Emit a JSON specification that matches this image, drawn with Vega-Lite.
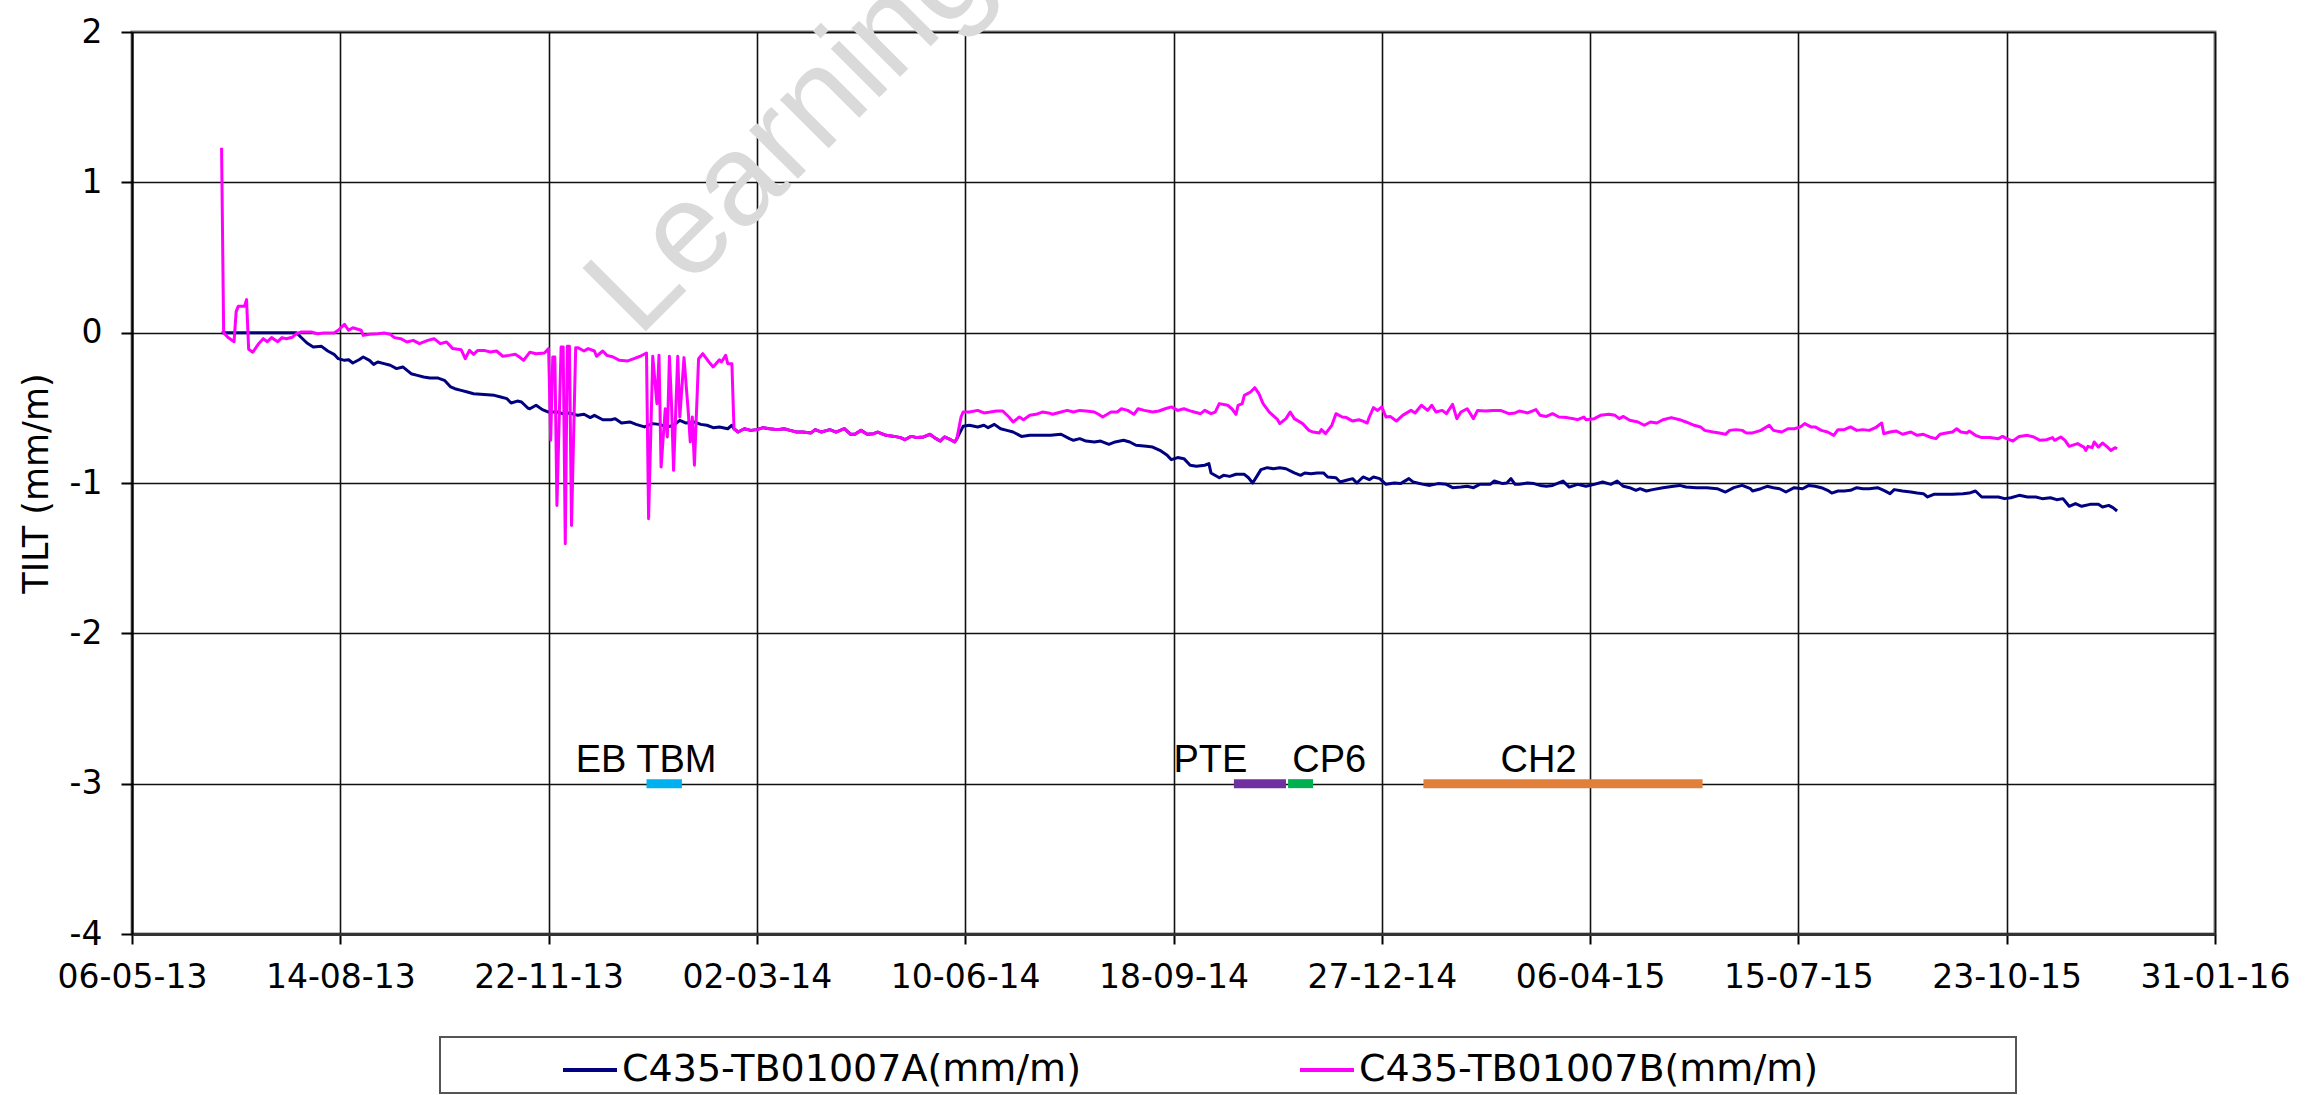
{
  "$schema": "https://vega.github.io/schema/vega-lite/v6.json",
  "width": 2083,
  "height": 902,
  "autosize": {"type": "none"},
  "padding": {"left": 132, "top": 32, "right": 103, "bottom": 161},
  "background": "white",
  "config": {
    "view": {"stroke": "#808080", "strokeWidth": 3},
    "axis": {
      "labelFont": "DejaVu Sans", "labelFontSize": 33, "labelColor": "#000",
      "tickColor": "#000", "tickWidth": 2, "domainColor": "#000", "domainWidth": 2,
      "gridColor": "#111", "gridWidth": 1.6, "gridOpacity": 1,
      "titleFont": "DejaVu Sans", "titleFontSize": 35, "titleFontWeight": "normal", "titleColor": "#000",
      "labelFlush": false, "labelOverlap": false, "labelBound": false
    },
    "legend": {"strokeWidth": 2}
  },
  "datasets": {
    "A": [
      {"d":"2013-06-18","v":0},{"d":"2013-07-24","v":0},{"d":"2013-07-26","v":-0.029},{"d":"2013-07-29","v":-0.069},
      {"d":"2013-08-01","v":-0.095},{"d":"2013-08-05","v":-0.091},{"d":"2013-08-08","v":-0.122},{"d":"2013-08-11","v":-0.144},
      {"d":"2013-08-13","v":-0.173},{"d":"2013-08-16","v":-0.184},{"d":"2013-08-18","v":-0.18},{"d":"2013-08-20","v":-0.202},
      {"d":"2013-08-23","v":-0.18},{"d":"2013-08-25","v":-0.162},{"d":"2013-08-28","v":-0.184},{"d":"2013-08-30","v":-0.211},
      {"d":"2013-09-01","v":-0.195},{"d":"2013-09-04","v":-0.206},{"d":"2013-09-07","v":-0.217},{"d":"2013-09-10","v":-0.239},
      {"d":"2013-09-13","v":-0.228},{"d":"2013-09-17","v":-0.273},{"d":"2013-09-20","v":-0.284},{"d":"2013-09-23","v":-0.295},
      {"d":"2013-09-26","v":-0.302},{"d":"2013-09-30","v":-0.302},{"d":"2013-10-03","v":-0.317},{"d":"2013-10-06","v":-0.361},
      {"d":"2013-10-08","v":-0.373},{"d":"2013-10-11","v":-0.384},{"d":"2013-10-14","v":-0.395},{"d":"2013-10-17","v":-0.406},
      {"d":"2013-10-22","v":-0.412},{"d":"2013-10-27","v":-0.417},{"d":"2013-10-30","v":-0.428},{"d":"2013-11-02","v":-0.439},
      {"d":"2013-11-04","v":-0.468},{"d":"2013-11-07","v":-0.455},{"d":"2013-11-09","v":-0.461},{"d":"2013-11-12","v":-0.501},
      {"d":"2013-11-13","v":-0.506},{"d":"2013-11-16","v":-0.483},{"d":"2013-11-19","v":-0.512},{"d":"2013-11-22","v":-0.528},
      {"d":"2013-11-26","v":-0.528},{"d":"2013-11-29","v":-0.539},{"d":"2013-12-02","v":-0.534},{"d":"2013-12-06","v":-0.55},
      {"d":"2013-12-09","v":-0.543},{"d":"2013-12-12","v":-0.565},{"d":"2013-12-14","v":-0.55},{"d":"2013-12-18","v":-0.579},
      {"d":"2013-12-22","v":-0.579},{"d":"2013-12-24","v":-0.572},{"d":"2013-12-27","v":-0.601},{"d":"2013-12-31","v":-0.594},
      {"d":"2014-01-03","v":-0.61},{"d":"2014-01-07","v":-0.627},{"d":"2014-01-11","v":-0.605},{"d":"2014-01-14","v":-0.61},
      {"d":"2014-01-18","v":-0.627},{"d":"2014-01-21","v":-0.616},{"d":"2014-01-24","v":-0.583},{"d":"2014-01-27","v":-0.601},
      {"d":"2014-01-31","v":-0.594},{"d":"2014-02-03","v":-0.61},{"d":"2014-02-06","v":-0.616},{"d":"2014-02-09","v":-0.632},
      {"d":"2014-02-12","v":-0.627},{"d":"2014-02-16","v":-0.639},{"d":"2014-02-18","v":-0.616},{"d":"2014-02-19","v":-0.639},
      {"d":"2014-02-21","v":-0.661},{"d":"2014-02-24","v":-0.639},{"d":"2014-02-27","v":-0.65},{"d":"2014-03-02","v":-0.645},
      {"d":"2014-03-05","v":-0.632},{"d":"2014-03-08","v":-0.639},{"d":"2014-03-12","v":-0.645},{"d":"2014-03-15","v":-0.639},
      {"d":"2014-03-18","v":-0.65},{"d":"2014-03-21","v":-0.661},{"d":"2014-03-24","v":-0.661},{"d":"2014-03-28","v":-0.667},
      {"d":"2014-03-30","v":-0.645},{"d":"2014-04-02","v":-0.661},{"d":"2014-04-06","v":-0.645},{"d":"2014-04-09","v":-0.661},
      {"d":"2014-04-13","v":-0.639},{"d":"2014-04-16","v":-0.676},{"d":"2014-04-18","v":-0.676},{"d":"2014-04-21","v":-0.65},
      {"d":"2014-04-24","v":-0.676},{"d":"2014-04-27","v":-0.672},{"d":"2014-04-29","v":-0.661},{"d":"2014-05-03","v":-0.683},
      {"d":"2014-05-07","v":-0.69},{"d":"2014-05-10","v":-0.698},{"d":"2014-05-12","v":-0.712},{"d":"2014-05-15","v":-0.69},
      {"d":"2014-05-18","v":-0.698},{"d":"2014-05-21","v":-0.694},{"d":"2014-05-24","v":-0.676},{"d":"2014-05-27","v":-0.705},
      {"d":"2014-05-29","v":-0.721},{"d":"2014-05-31","v":-0.694},{"d":"2014-06-03","v":-0.712},{"d":"2014-06-05","v":-0.727},
      {"d":"2014-06-06","v":-0.705},{"d":"2014-06-08","v":-0.65},{"d":"2014-06-09","v":-0.623},{"d":"2014-06-12","v":-0.616},
      {"d":"2014-06-16","v":-0.627},{"d":"2014-06-19","v":-0.616},{"d":"2014-06-21","v":-0.632},{"d":"2014-06-24","v":-0.61},
      {"d":"2014-06-27","v":-0.639},{"d":"2014-06-30","v":-0.65},{"d":"2014-07-03","v":-0.661},{"d":"2014-07-07","v":-0.69},
      {"d":"2014-07-11","v":-0.683},{"d":"2014-07-16","v":-0.683},{"d":"2014-07-21","v":-0.683},{"d":"2014-07-26","v":-0.676},
      {"d":"2014-07-30","v":-0.705},{"d":"2014-08-01","v":-0.716},{"d":"2014-08-04","v":-0.705},{"d":"2014-08-07","v":-0.721},
      {"d":"2014-08-11","v":-0.727},{"d":"2014-08-14","v":-0.721},{"d":"2014-08-18","v":-0.743},{"d":"2014-08-21","v":-0.727},
      {"d":"2014-08-25","v":-0.716},{"d":"2014-08-28","v":-0.727},{"d":"2014-08-31","v":-0.749},{"d":"2014-09-05","v":-0.756},
      {"d":"2014-09-08","v":-0.761},{"d":"2014-09-12","v":-0.787},{"d":"2014-09-15","v":-0.816},{"d":"2014-09-17","v":-0.845},
      {"d":"2014-09-20","v":-0.831},{"d":"2014-09-23","v":-0.838},{"d":"2014-09-26","v":-0.882},{"d":"2014-09-29","v":-0.889},
      {"d":"2014-10-03","v":-0.882},{"d":"2014-10-05","v":-0.871},{"d":"2014-10-06","v":-0.933},{"d":"2014-10-10","v":-0.965},
      {"d":"2014-10-12","v":-0.949},{"d":"2014-10-15","v":-0.956},{"d":"2014-10-18","v":-0.942},{"d":"2014-10-22","v":-0.942},
      {"d":"2014-10-24","v":-0.965},{"d":"2014-10-26","v":-1.0},{"d":"2014-10-28","v":-0.956},{"d":"2014-10-30","v":-0.911},
      {"d":"2014-11-02","v":-0.898},{"d":"2014-11-05","v":-0.905},{"d":"2014-11-08","v":-0.898},{"d":"2014-11-11","v":-0.905},
      {"d":"2014-11-15","v":-0.933},{"d":"2014-11-18","v":-0.949},{"d":"2014-11-20","v":-0.933},{"d":"2014-11-23","v":-0.938},
      {"d":"2014-11-26","v":-0.933},{"d":"2014-11-29","v":-0.933},{"d":"2014-12-01","v":-0.96},{"d":"2014-12-05","v":-0.965},
      {"d":"2014-12-07","v":-0.993},{"d":"2014-12-10","v":-0.982},{"d":"2014-12-13","v":-0.971},{"d":"2014-12-15","v":-1.0},
      {"d":"2014-12-18","v":-0.96},{"d":"2014-12-21","v":-0.978},{"d":"2014-12-23","v":-0.96},{"d":"2014-12-26","v":-0.971},
      {"d":"2014-12-29","v":-1.009},{"d":"2015-01-02","v":-1.0},{"d":"2015-01-05","v":-1.004},{"d":"2015-01-09","v":-0.971},
      {"d":"2015-01-11","v":-0.993},{"d":"2015-01-16","v":-1.009},{"d":"2015-01-19","v":-1.016},{"d":"2015-01-23","v":-1.004},
      {"d":"2015-01-27","v":-1.009},{"d":"2015-01-30","v":-1.031},{"d":"2015-02-03","v":-1.027},{"d":"2015-02-06","v":-1.022},
      {"d":"2015-02-09","v":-1.031},{"d":"2015-02-12","v":-1.009},{"d":"2015-02-17","v":-1.009},{"d":"2015-02-19","v":-0.987},
      {"d":"2015-02-23","v":-1.004},{"d":"2015-02-25","v":-1.0},{"d":"2015-02-27","v":-0.971},{"d":"2015-03-01","v":-1.009},
      {"d":"2015-03-03","v":-1.009},{"d":"2015-03-07","v":-1.0},{"d":"2015-03-10","v":-1.004},{"d":"2015-03-13","v":-1.016},
      {"d":"2015-03-16","v":-1.022},{"d":"2015-03-19","v":-1.016},{"d":"2015-03-24","v":-0.987},{"d":"2015-03-27","v":-1.027},
      {"d":"2015-03-31","v":-1.009},{"d":"2015-04-04","v":-1.022},{"d":"2015-04-08","v":-1.009},{"d":"2015-04-12","v":-0.993},
      {"d":"2015-04-16","v":-1.009},{"d":"2015-04-19","v":-0.987},{"d":"2015-04-22","v":-1.022},{"d":"2015-04-25","v":-1.031},
      {"d":"2015-04-28","v":-1.049},{"d":"2015-04-30","v":-1.038},{"d":"2015-05-03","v":-1.053},{"d":"2015-05-06","v":-1.044},
      {"d":"2015-05-11","v":-1.031},{"d":"2015-05-16","v":-1.022},{"d":"2015-05-19","v":-1.016},{"d":"2015-05-22","v":-1.027},
      {"d":"2015-05-27","v":-1.031},{"d":"2015-06-01","v":-1.031},{"d":"2015-06-06","v":-1.038},{"d":"2015-06-10","v":-1.06},
      {"d":"2015-06-14","v":-1.031},{"d":"2015-06-18","v":-1.016},{"d":"2015-06-22","v":-1.038},{"d":"2015-06-23","v":-1.053},
      {"d":"2015-06-27","v":-1.038},{"d":"2015-06-30","v":-1.022},{"d":"2015-07-03","v":-1.031},{"d":"2015-07-06","v":-1.038},
      {"d":"2015-07-09","v":-1.06},{"d":"2015-07-13","v":-1.031},{"d":"2015-07-17","v":-1.038},{"d":"2015-07-20","v":-1.016},
      {"d":"2015-07-23","v":-1.022},{"d":"2015-07-26","v":-1.031},{"d":"2015-07-29","v":-1.049},{"d":"2015-07-31","v":-1.067},
      {"d":"2015-08-03","v":-1.053},{"d":"2015-08-06","v":-1.053},{"d":"2015-08-09","v":-1.049},{"d":"2015-08-12","v":-1.031},
      {"d":"2015-08-15","v":-1.038},{"d":"2015-08-18","v":-1.038},{"d":"2015-08-22","v":-1.031},{"d":"2015-08-25","v":-1.049},
      {"d":"2015-08-28","v":-1.071},{"d":"2015-08-30","v":-1.044},{"d":"2015-09-03","v":-1.053},{"d":"2015-09-07","v":-1.06},
      {"d":"2015-09-10","v":-1.067},{"d":"2015-09-13","v":-1.071},{"d":"2015-09-15","v":-1.093},{"d":"2015-09-18","v":-1.075},
      {"d":"2015-09-23","v":-1.075},{"d":"2015-09-27","v":-1.075},{"d":"2015-10-02","v":-1.071},{"d":"2015-10-05","v":-1.067},
      {"d":"2015-10-08","v":-1.053},{"d":"2015-10-11","v":-1.093},{"d":"2015-10-15","v":-1.093},{"d":"2015-10-19","v":-1.093},
      {"d":"2015-10-22","v":-1.104},{"d":"2015-10-25","v":-1.098},{"d":"2015-10-29","v":-1.082},{"d":"2015-11-02","v":-1.093},
      {"d":"2015-11-06","v":-1.093},{"d":"2015-11-09","v":-1.104},{"d":"2015-11-13","v":-1.098},{"d":"2015-11-16","v":-1.111},
      {"d":"2015-11-19","v":-1.104},{"d":"2015-11-22","v":-1.155},{"d":"2015-11-25","v":-1.137},{"d":"2015-11-28","v":-1.155},
      {"d":"2015-12-02","v":-1.142},{"d":"2015-12-06","v":-1.142},{"d":"2015-12-08","v":-1.16},{"d":"2015-12-11","v":-1.149},
      {"d":"2015-12-13","v":-1.164},{"d":"2015-12-15","v":-1.186}
    ],
    "B": [
      {"d":"2013-06-18","v":1.23},{"d":"2013-06-19","v":0},{"d":"2013-06-21","v":-0.03},{"d":"2013-06-24","v":-0.06},
      {"d":"2013-06-25","v":0.14},{"d":"2013-06-26","v":0.175},{"d":"2013-06-29","v":0.175},{"d":"2013-06-30","v":0.22},
      {"d":"2013-07-01","v":-0.11},{"d":"2013-07-03","v":-0.13},{"d":"2013-07-06","v":-0.07},{"d":"2013-07-08","v":-0.04},
      {"d":"2013-07-10","v":-0.06},{"d":"2013-07-12","v":-0.033},{"d":"2013-07-15","v":-0.06},{"d":"2013-07-17","v":-0.033},
      {"d":"2013-07-19","v":-0.04},{"d":"2013-07-22","v":-0.03},{"d":"2013-07-24","v":-0.007},{"d":"2013-07-26","v":0.004},
      {"d":"2013-07-31","v":0.004},{"d":"2013-08-03","v":-0.007},{"d":"2013-08-06","v":-0.002},{"d":"2013-08-11","v":-0.002},
      {"d":"2013-08-13","v":0.016},{"d":"2013-08-16","v":0.055},{"d":"2013-08-18","v":0.016},{"d":"2013-08-20","v":0.033},
      {"d":"2013-08-24","v":0.016},{"d":"2013-08-25","v":-0.018},{"d":"2013-08-28","v":-0.011},{"d":"2013-09-01","v":-0.007},
      {"d":"2013-09-04","v":-0.002},{"d":"2013-09-07","v":-0.011},{"d":"2013-09-09","v":-0.033},{"d":"2013-09-12","v":-0.04},
      {"d":"2013-09-15","v":-0.062},{"d":"2013-09-18","v":-0.051},{"d":"2013-09-21","v":-0.073},{"d":"2013-09-25","v":-0.051},
      {"d":"2013-09-28","v":-0.04},{"d":"2013-10-01","v":-0.073},{"d":"2013-10-04","v":-0.062},{"d":"2013-10-07","v":-0.106},
      {"d":"2013-10-11","v":-0.113},{"d":"2013-10-13","v":-0.173},{"d":"2013-10-15","v":-0.118},{"d":"2013-10-17","v":-0.144},
      {"d":"2013-10-19","v":-0.118},{"d":"2013-10-22","v":-0.118},{"d":"2013-10-25","v":-0.129},{"d":"2013-10-28","v":-0.122},
      {"d":"2013-10-31","v":-0.157},{"d":"2013-11-03","v":-0.151},{"d":"2013-11-06","v":-0.144},{"d":"2013-11-08","v":-0.162},
      {"d":"2013-11-10","v":-0.184},{"d":"2013-11-13","v":-0.13},{"d":"2013-11-16","v":-0.14},{"d":"2013-11-20","v":-0.135},
      {"d":"2013-11-22","v":-0.106},{"d":"2013-11-23","v":-0.716},{"d":"2013-11-24","v":-0.162},{"d":"2013-11-25","v":-0.162},
      {"d":"2013-11-26","v":-1.149},{"d":"2013-11-28","v":-0.095},{"d":"2013-11-29","v":-0.095},{"d":"2013-11-30","v":-1.404},
      {"d":"2013-12-01","v":-0.091},{"d":"2013-12-02","v":-0.091},{"d":"2013-12-03","v":-1.282},{"d":"2013-12-05","v":-0.1},
      {"d":"2013-12-06","v":-0.1},{"d":"2013-12-09","v":-0.122},{"d":"2013-12-11","v":-0.106},{"d":"2013-12-14","v":-0.122},
      {"d":"2013-12-15","v":-0.157},{"d":"2013-12-18","v":-0.122},{"d":"2013-12-20","v":-0.151},{"d":"2013-12-23","v":-0.162},
      {"d":"2013-12-26","v":-0.184},{"d":"2013-12-30","v":-0.188},{"d":"2014-01-02","v":-0.173},{"d":"2014-01-05","v":-0.157},
      {"d":"2014-01-08","v":-0.135},{"d":"2014-01-09","v":-1.237},{"d":"2014-01-11","v":-0.157},{"d":"2014-01-13","v":-0.472},
      {"d":"2014-01-14","v":-0.151},{"d":"2014-01-15","v":-0.894},{"d":"2014-01-17","v":-0.506},{"d":"2014-01-18","v":-0.694},
      {"d":"2014-01-19","v":-0.157},{"d":"2014-01-20","v":-0.472},{"d":"2014-01-21","v":-0.916},{"d":"2014-01-23","v":-0.157},
      {"d":"2014-01-24","v":-0.561},{"d":"2014-01-26","v":-0.166},{"d":"2014-01-28","v":-0.517},{"d":"2014-01-29","v":-0.727},
      {"d":"2014-01-30","v":-0.561},{"d":"2014-01-31","v":-0.882},{"d":"2014-02-02","v":-0.173},{"d":"2014-02-04","v":-0.14},
      {"d":"2014-02-07","v":-0.195},{"d":"2014-02-09","v":-0.228},{"d":"2014-02-12","v":-0.18},{"d":"2014-02-13","v":-0.195},
      {"d":"2014-02-15","v":-0.151},{"d":"2014-02-16","v":-0.206},{"d":"2014-02-18","v":-0.206},{"d":"2014-02-19","v":-0.639},
      {"d":"2014-02-21","v":-0.661},{"d":"2014-02-24","v":-0.639},{"d":"2014-02-27","v":-0.65},{"d":"2014-03-02","v":-0.645},
      {"d":"2014-03-05","v":-0.632},{"d":"2014-03-08","v":-0.639},{"d":"2014-03-12","v":-0.645},{"d":"2014-03-15","v":-0.639},
      {"d":"2014-03-18","v":-0.65},{"d":"2014-03-21","v":-0.661},{"d":"2014-03-24","v":-0.661},{"d":"2014-03-28","v":-0.667},
      {"d":"2014-03-30","v":-0.645},{"d":"2014-04-02","v":-0.661},{"d":"2014-04-06","v":-0.645},{"d":"2014-04-09","v":-0.661},
      {"d":"2014-04-13","v":-0.639},{"d":"2014-04-16","v":-0.676},{"d":"2014-04-18","v":-0.676},{"d":"2014-04-21","v":-0.65},
      {"d":"2014-04-24","v":-0.676},{"d":"2014-04-27","v":-0.672},{"d":"2014-04-29","v":-0.661},{"d":"2014-05-03","v":-0.683},
      {"d":"2014-05-07","v":-0.69},{"d":"2014-05-10","v":-0.698},{"d":"2014-05-12","v":-0.712},{"d":"2014-05-15","v":-0.69},
      {"d":"2014-05-18","v":-0.698},{"d":"2014-05-21","v":-0.694},{"d":"2014-05-24","v":-0.676},{"d":"2014-05-27","v":-0.705},
      {"d":"2014-05-29","v":-0.721},{"d":"2014-05-31","v":-0.694},{"d":"2014-06-03","v":-0.712},{"d":"2014-06-05","v":-0.727},
      {"d":"2014-06-06","v":-0.705},{"d":"2014-06-08","v":-0.561},{"d":"2014-06-09","v":-0.528},{"d":"2014-06-12","v":-0.528},
      {"d":"2014-06-16","v":-0.517},{"d":"2014-06-19","v":-0.534},{"d":"2014-06-22","v":-0.528},{"d":"2014-06-25","v":-0.521},
      {"d":"2014-06-28","v":-0.521},{"d":"2014-07-01","v":-0.561},{"d":"2014-07-03","v":-0.594},{"d":"2014-07-06","v":-0.561},
      {"d":"2014-07-08","v":-0.579},{"d":"2014-07-11","v":-0.55},{"d":"2014-07-14","v":-0.543},{"d":"2014-07-17","v":-0.528},
      {"d":"2014-07-20","v":-0.534},{"d":"2014-07-22","v":-0.543},{"d":"2014-07-26","v":-0.528},{"d":"2014-07-29","v":-0.517},
      {"d":"2014-08-01","v":-0.528},{"d":"2014-08-04","v":-0.517},{"d":"2014-08-07","v":-0.521},{"d":"2014-08-11","v":-0.528},
      {"d":"2014-08-13","v":-0.543},{"d":"2014-08-15","v":-0.561},{"d":"2014-08-19","v":-0.528},{"d":"2014-08-22","v":-0.528},
      {"d":"2014-08-24","v":-0.506},{"d":"2014-08-27","v":-0.517},{"d":"2014-08-30","v":-0.543},{"d":"2014-09-01","v":-0.506},
      {"d":"2014-09-04","v":-0.517},{"d":"2014-09-08","v":-0.528},{"d":"2014-09-11","v":-0.521},{"d":"2014-09-14","v":-0.506},
      {"d":"2014-09-17","v":-0.494},{"d":"2014-09-20","v":-0.517},{"d":"2014-09-23","v":-0.506},{"d":"2014-09-26","v":-0.52},
      {"d":"2014-09-28","v":-0.528},{"d":"2014-10-01","v":-0.539},{"d":"2014-10-03","v":-0.517},{"d":"2014-10-06","v":-0.539},
      {"d":"2014-10-08","v":-0.528},{"d":"2014-10-10","v":-0.472},{"d":"2014-10-14","v":-0.483},{"d":"2014-10-16","v":-0.506},
      {"d":"2014-10-18","v":-0.543},{"d":"2014-10-19","v":-0.483},{"d":"2014-10-21","v":-0.472},{"d":"2014-10-22","v":-0.417},
      {"d":"2014-10-25","v":-0.395},{"d":"2014-10-27","v":-0.366},{"d":"2014-10-29","v":-0.406},{"d":"2014-10-31","v":-0.472},
      {"d":"2014-11-03","v":-0.528},{"d":"2014-11-07","v":-0.579},{"d":"2014-11-08","v":-0.605},{"d":"2014-11-11","v":-0.572},
      {"d":"2014-11-13","v":-0.528},{"d":"2014-11-15","v":-0.572},{"d":"2014-11-19","v":-0.605},{"d":"2014-11-22","v":-0.65},
      {"d":"2014-11-24","v":-0.661},{"d":"2014-11-27","v":-0.667},{"d":"2014-11-28","v":-0.645},{"d":"2014-11-30","v":-0.672},
      {"d":"2014-12-03","v":-0.616},{"d":"2014-12-05","v":-0.539},{"d":"2014-12-08","v":-0.561},{"d":"2014-12-10","v":-0.565},
      {"d":"2014-12-13","v":-0.588},{"d":"2014-12-16","v":-0.579},{"d":"2014-12-18","v":-0.588},{"d":"2014-12-20","v":-0.601},
      {"d":"2014-12-21","v":-0.561},{"d":"2014-12-23","v":-0.499},{"d":"2014-12-25","v":-0.517},{"d":"2014-12-27","v":-0.494},
      {"d":"2014-12-29","v":-0.561},{"d":"2014-12-31","v":-0.557},{"d":"2015-01-03","v":-0.588},{"d":"2015-01-06","v":-0.55},
      {"d":"2015-01-10","v":-0.517},{"d":"2015-01-12","v":-0.534},{"d":"2015-01-15","v":-0.483},{"d":"2015-01-18","v":-0.517},
      {"d":"2015-01-20","v":-0.483},{"d":"2015-01-22","v":-0.528},{"d":"2015-01-25","v":-0.517},{"d":"2015-01-27","v":-0.539},
      {"d":"2015-01-30","v":-0.477},{"d":"2015-02-01","v":-0.572},{"d":"2015-02-03","v":-0.528},{"d":"2015-02-06","v":-0.506},
      {"d":"2015-02-09","v":-0.572},{"d":"2015-02-11","v":-0.517},{"d":"2015-02-15","v":-0.521},{"d":"2015-02-18","v":-0.517},
      {"d":"2015-02-22","v":-0.517},{"d":"2015-02-26","v":-0.539},{"d":"2015-03-01","v":-0.534},{"d":"2015-03-03","v":-0.521},
      {"d":"2015-03-07","v":-0.534},{"d":"2015-03-11","v":-0.512},{"d":"2015-03-13","v":-0.55},{"d":"2015-03-16","v":-0.557},
      {"d":"2015-03-19","v":-0.539},{"d":"2015-03-22","v":-0.561},{"d":"2015-03-26","v":-0.565},{"d":"2015-03-29","v":-0.572},
      {"d":"2015-03-31","v":-0.579},{"d":"2015-04-03","v":-0.561},{"d":"2015-04-04","v":-0.579},{"d":"2015-04-08","v":-0.572},
      {"d":"2015-04-11","v":-0.55},{"d":"2015-04-15","v":-0.543},{"d":"2015-04-18","v":-0.55},{"d":"2015-04-20","v":-0.572},
      {"d":"2015-04-22","v":-0.557},{"d":"2015-04-25","v":-0.583},{"d":"2015-04-29","v":-0.594},{"d":"2015-05-02","v":-0.616},
      {"d":"2015-05-05","v":-0.594},{"d":"2015-05-08","v":-0.601},{"d":"2015-05-11","v":-0.579},{"d":"2015-05-15","v":-0.565},
      {"d":"2015-05-19","v":-0.579},{"d":"2015-05-22","v":-0.594},{"d":"2015-05-26","v":-0.616},{"d":"2015-05-29","v":-0.627},
      {"d":"2015-05-31","v":-0.65},{"d":"2015-06-04","v":-0.661},{"d":"2015-06-07","v":-0.667},{"d":"2015-06-10","v":-0.676},
      {"d":"2015-06-12","v":-0.65},{"d":"2015-06-15","v":-0.645},{"d":"2015-06-18","v":-0.65},{"d":"2015-06-20","v":-0.667},
      {"d":"2015-06-23","v":-0.667},{"d":"2015-06-27","v":-0.65},{"d":"2015-07-01","v":-0.616},{"d":"2015-07-03","v":-0.65},
      {"d":"2015-07-07","v":-0.661},{"d":"2015-07-10","v":-0.639},{"d":"2015-07-13","v":-0.639},{"d":"2015-07-16","v":-0.627},
      {"d":"2015-07-18","v":-0.605},{"d":"2015-07-21","v":-0.627},{"d":"2015-07-23","v":-0.627},{"d":"2015-07-26","v":-0.65},
      {"d":"2015-07-29","v":-0.661},{"d":"2015-08-01","v":-0.683},{"d":"2015-08-03","v":-0.645},{"d":"2015-08-06","v":-0.645},
      {"d":"2015-08-09","v":-0.627},{"d":"2015-08-12","v":-0.65},{"d":"2015-08-15","v":-0.645},{"d":"2015-08-18","v":-0.65},
      {"d":"2015-08-21","v":-0.632},{"d":"2015-08-24","v":-0.601},{"d":"2015-08-25","v":-0.672},{"d":"2015-08-28","v":-0.661},
      {"d":"2015-08-31","v":-0.654},{"d":"2015-09-03","v":-0.676},{"d":"2015-09-07","v":-0.661},{"d":"2015-09-10","v":-0.683},
      {"d":"2015-09-13","v":-0.676},{"d":"2015-09-16","v":-0.694},{"d":"2015-09-19","v":-0.705},{"d":"2015-09-21","v":-0.676},
      {"d":"2015-09-24","v":-0.667},{"d":"2015-09-27","v":-0.661},{"d":"2015-09-29","v":-0.639},{"d":"2015-10-01","v":-0.661},
      {"d":"2015-10-04","v":-0.667},{"d":"2015-10-05","v":-0.654},{"d":"2015-10-08","v":-0.683},{"d":"2015-10-11","v":-0.698},
      {"d":"2015-10-15","v":-0.698},{"d":"2015-10-19","v":-0.705},{"d":"2015-10-21","v":-0.69},{"d":"2015-10-23","v":-0.705},
      {"d":"2015-10-26","v":-0.721},{"d":"2015-10-29","v":-0.69},{"d":"2015-11-02","v":-0.683},{"d":"2015-11-05","v":-0.694},
      {"d":"2015-11-08","v":-0.716},{"d":"2015-11-11","v":-0.712},{"d":"2015-11-14","v":-0.698},{"d":"2015-11-15","v":-0.716},
      {"d":"2015-11-18","v":-0.694},{"d":"2015-11-20","v":-0.716},{"d":"2015-11-22","v":-0.756},{"d":"2015-11-26","v":-0.738},
      {"d":"2015-11-29","v":-0.761},{"d":"2015-11-30","v":-0.783},{"d":"2015-12-01","v":-0.756},{"d":"2015-12-03","v":-0.765},
      {"d":"2015-12-04","v":-0.727},{"d":"2015-12-06","v":-0.761},{"d":"2015-12-08","v":-0.734},{"d":"2015-12-10","v":-0.756},
      {"d":"2015-12-12","v":-0.783},{"d":"2015-12-14","v":-0.765},{"d":"2015-12-15","v":-0.772}
    ],
    "bars": [
      {"label":"EB TBM","d":"2014-01-08","d2":"2014-01-25","v":-3},
      {"label":"PTE","d":"2014-10-17","d2":"2014-11-11","v":-3},
      {"label":"CP6","d":"2014-11-12","d2":"2014-11-24","v":-3},
      {"label":"CH2","d":"2015-01-16","d2":"2015-05-30","v":-3}
    ],
    "labels": [
      {"label":"EB TBM","d":"2013-12-05","v":-3},
      {"label":"PTE","d":"2014-09-18","v":-3},
      {"label":"CP6","d":"2014-11-14","v":-3},
      {"label":"CH2","d":"2015-02-22","v":-3}
    ],
    "wm": [{"t":"Learning","d":"2014-01-04","v":-0.04}]
  },
  "encoding": {
    "x": {
      "field": "d", "type": "temporal",
      "scale": {"type": "utc", "nice": false, "domain": [
        {"year": 2013, "month": 5, "date": 6, "utc": true},
        {"year": 2016, "month": 1, "date": 31, "utc": true}]},
      "axis": {
        "title": null,
        "labelExpr": "utcFormat(datum.value, '%d-%m-%y')",
        "values": [
          {"year": 2013, "month": 5, "date": 6, "utc": true},
          {"year": 2013, "month": 8, "date": 14, "utc": true},
          {"year": 2013, "month": 11, "date": 22, "utc": true},
          {"year": 2014, "month": 3, "date": 2, "utc": true},
          {"year": 2014, "month": 6, "date": 10, "utc": true},
          {"year": 2014, "month": 9, "date": 18, "utc": true},
          {"year": 2014, "month": 12, "date": 27, "utc": true},
          {"year": 2015, "month": 4, "date": 6, "utc": true},
          {"year": 2015, "month": 7, "date": 15, "utc": true},
          {"year": 2015, "month": 10, "date": 23, "utc": true},
          {"year": 2016, "month": 1, "date": 31, "utc": true}],
        "tickSize": 10, "labelPadding": 17, "domainColor": "#333", "domainWidth": 3
      }
    },
    "y": {
      "field": "v", "type": "quantitative",
      "scale": {"domain": [-4, 2], "nice": false},
      "axis": {
        "title": "TILT (mm/m)", "values": [-4, -3, -2, -1, 0, 1, 2],
        "labelExpr": "'' + datum.value",
        "tickSize": 11, "labelPadding": 19, "titleX": -96, "titleY": 451,
        "titleBaseline": "middle", "titleAngle": 270
      }
    }
  },
  "layer": [
    {
      "data": {"name": "wm"},
      "mark": {"type": "text", "font": "Liberation Sans", "fontSize": 130, "angle": 315,
               "align": "left", "baseline": "alphabetic", "color": "#DADADA"},
      "encoding": {"text": {"field": "t"}}
    },
    {
      "data": {"name": "A"},
      "mark": {"type": "line", "strokeWidth": 3, "strokeJoin": "round"},
      "encoding": {
        "color": {
          "datum": "C435-TB01007A(mm/m)",
          "scale": {"domain": ["C435-TB01007A(mm/m)", "C435-TB01007B(mm/m)"], "range": ["#000080", "#FF00FF"]},
          "legend": {
            "orient": "none", "legendX": 308, "legendY": 1005, "direction": "horizontal",
            "title": "\u00a0", "titleOrient": "left", "titleFontSize": 38, "titleFont": "DejaVu Sans", "titlePadding": 117,
            "symbolType": "stroke", "symbolSize": 2916, "symbolStrokeWidth": 4,
            "labelFont": "DejaVu Sans", "labelFontSize": 38, "labelColor": "#000", "labelOffset": 3, "labelLimit": 0,
            "labelExpr": "datum.label == 'C435-TB01007B(mm/m)' ? datum.label + '\u00a0\u00a0\u00a0\u00a0\u00a0\u00a0\u00a0\u00a0\u00a0\u00a0\u00a0\u00a0\u00a0\u00a0\u00a0\u00a0\u200b' : datum.label",
            "columnPadding": 211, "padding": 4,
            "strokeColor": "#555", "fillColor": "white"
          }
        }
      }
    },
    {
      "data": {"name": "B"},
      "mark": {"type": "line", "strokeWidth": 3, "strokeJoin": "round"},
      "encoding": {"color": {"datum": "C435-TB01007B(mm/m)"}}
    },
    {
      "data": {"name": "bars"},
      "mark": {"type": "rule", "strokeWidth": 9},
      "encoding": {
        "x2": {"field": "d2"},
        "stroke": {"field": "label", "type": "nominal",
                   "scale": {"domain": ["EB TBM", "PTE", "CP6", "CH2"], "range": ["#00B0F0", "#7030A0", "#00B050", "#E0803A"]},
                   "legend": null}
      }
    },
    {
      "data": {"name": "labels"},
      "mark": {"type": "text", "font": "Liberation Sans", "fontSize": 38, "align": "left",
               "baseline": "alphabetic", "dy": -12, "color": "#000"},
      "encoding": {"text": {"field": "label"}}
    }
  ]
}
